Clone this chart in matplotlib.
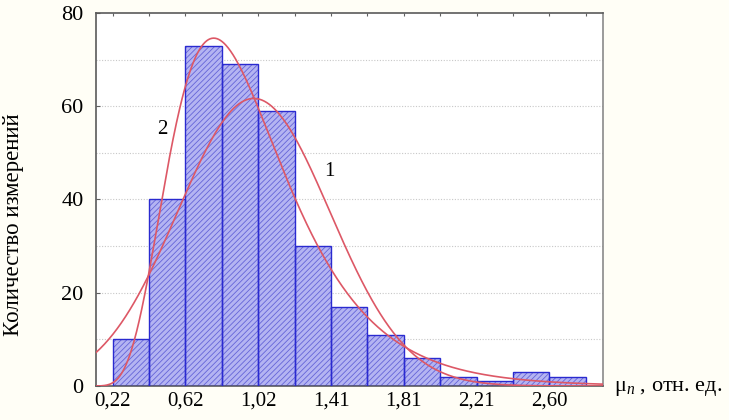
import numpy as np
import matplotlib
matplotlib.use("Agg")
import matplotlib.pyplot as plt

# ---- data ----
counts = [10, 40, 73, 69, 59, 30, 17, 11, 6, 2, 1, 3, 2]
x_start = 0.22
x_step_label = 2.60  # value of last labelled edge (edge index 12)
tick_labels = ['0,22', '0,62', '1,02', '1,41', '1,81', '2,21', '2,60']
curve_labels = ['1', '2']
curve_label_pos = [(1.40, 46.0), (0.49, 55.0)]
ylabel = 'Количество измерений'
xlabel_tail = ' , отн. ед.'

# ---- derived ----
n_bins = len(counts)
bw = (x_step_label - x_start) / 12.0
edges = x_start + bw * np.arange(n_bins + 1)
centers = (edges[:-1] + edges[1:]) / 2
cnt = np.array(counts, dtype=float)
N = cnt.sum()
scale = N * bw

# normal fit (curve 1) and lognormal fit (curve 2) from histogram
mu = np.sum(cnt * centers) / N
sd = np.sqrt(np.sum(cnt * (centers - mu) ** 2) / N)
lc = np.log(centers)
lm = np.sum(cnt * lc) / N
ls = np.sqrt(np.sum(cnt * (lc - lm) ** 2) / N)

xmin = x_start - 0.456 * bw
xmax = edges[-1] + 0.47 * bw
xs = np.linspace(xmin, xmax, 600)
norm_y = scale * np.exp(-(xs - mu) ** 2 / (2 * sd ** 2)) / (sd * np.sqrt(2 * np.pi))
logn_y = scale * np.exp(-(np.log(xs) - lm) ** 2 / (2 * ls ** 2)) / (xs * ls * np.sqrt(2 * np.pi))

plt.rcParams['font.family'] = ['Liberation Serif', 'DejaVu Serif']
plt.rcParams['mathtext.fontset'] = 'custom'
plt.rcParams['mathtext.rm'] = 'Liberation Serif'
plt.rcParams['mathtext.it'] = 'Liberation Serif:italic'
plt.rcParams['hatch.linewidth'] = 0.6

fig = plt.figure(figsize=(7.29, 4.20), dpi=100, facecolor='#fffef6')
ax = fig.add_axes([96 / 729, 1 - 386 / 420, (603 - 96) / 729, (386 - 13) / 420])
ax.set_facecolor('white')

# grid
for gy in range(10, 80, 10):
    ax.axhline(gy, color='#c8c8c8', lw=0.8, ls=(0, (1, 1.5)), zorder=0)

# bars: fill + hatch, then outline
ax.bar(edges[:-1], counts, width=bw, align='edge', color='#b4b4f2',
       edgecolor='#6464d8', hatch='//////', linewidth=0, zorder=2)
ax.bar(edges[:-1], counts, width=bw, align='edge', color='none',
       edgecolor='#2a2ad0', linewidth=1.0, zorder=3)

# fitted curves
ax.plot(xs, norm_y, color='#dd5866', lw=1.2, zorder=4)
ax.plot(xs, logn_y, color='#dd5866', lw=1.2, zorder=4)

for lab, (lx, ly) in zip(curve_labels, curve_label_pos):
    ax.text(lx, ly, lab, fontsize=15, ha='center', va='center', zorder=5)

ax.set_xlim(xmin, xmax)
ax.set_ylim(0, 80)

ax.set_xticks(edges[::2][:len(tick_labels)])
ax.set_xticklabels(tick_labels, fontsize=15)
ax.set_yticks([0, 20, 40, 60, 80])
ax.set_yticklabels(['0', '20', '40', '60', '80'], fontsize=16)
ax.tick_params(axis='x', length=0, pad=4)
ax.tick_params(axis='y', length=3, direction='in', pad=9, color='#606060')

# top tick marks at bin edges
ax_top = ax.secondary_xaxis('top')
ax_top.set_xticks(edges)
ax_top.set_xticklabels([])
ax_top.tick_params(length=2.5, direction='in', color='#606060')
ax_top.spines['top'].set_visible(False)

for side in ['left', 'bottom', 'top']:
    ax.spines[side].set_color('#5a5a5a')
    ax.spines[side].set_linewidth(1.2)
ax.spines['right'].set_color('#8a8a8a')
ax.spines['right'].set_linewidth(1.2)

fig.text(0.018, 0.465, ylabel, rotation=90, fontsize=16.5, ha='center', va='center')
fig.text(614 / 729, 1 - 388 / 420, r'$\mathrm{μ}_{\mathit{n}}$' + xlabel_tail,
         fontsize=16, ha='left', va='center')

fig.savefig('out.png', dpi=100, facecolor=fig.get_facecolor())
